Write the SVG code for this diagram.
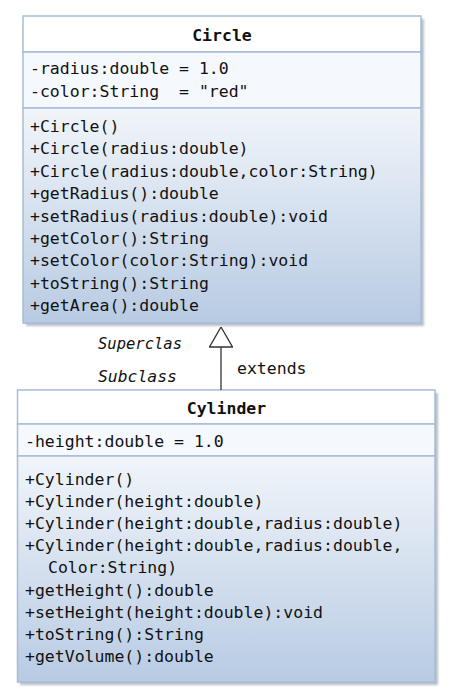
<svg xmlns="http://www.w3.org/2000/svg" width="451" height="696" viewBox="0 0 451 696">
<defs>
<linearGradient id="mg" x1="0" y1="0" x2="0" y2="1">
<stop offset="0" stop-color="#f1f5fa"/>
<stop offset="1" stop-color="#b8cbe3"/>
</linearGradient>
<filter id="sh" x="-5%" y="-5%" width="110%" height="110%">
<feGaussianBlur stdDeviation="1"/>
</filter>
<marker id="tri" viewBox="0 0 24 21" refX="12" refY="20.5" markerWidth="24" markerHeight="21" markerUnits="userSpaceOnUse" orient="0">
<polygon points="12,0.5 0.5,20.5 23.5,20.5" fill="#ffffff" stroke="#333333" stroke-width="1.3"/>
</marker>
</defs>
<style>
.box{stroke:#a6bcd8;stroke-width:1.5}
.t{font-family:"DejaVu Sans Mono","Liberation Mono",monospace;font-size:16.5px;fill:#111111}
.b{font-weight:bold;text-anchor:middle}
.i{font-style:italic}
.shadow{fill:#8a96a6;opacity:0.6}
</style>
<rect width="451" height="696" fill="#ffffff"/>
<g id="circle">
<rect class="shadow" x="26" y="19" width="398" height="307" filter="url(#sh)"/>
<rect class="box" x="23" y="16" width="398" height="36" fill="#ffffff"/>
<rect class="box" x="23" y="52" width="398" height="56" fill="#f5f8fc"/>
<rect class="box" x="23" y="108" width="398" height="215" fill="url(#mg)"/>
<text class="t b" x="222" y="41">Circle</text>
<text class="t" x="30" y="74">-radius:double = 1.0</text>
<text class="t" x="30" y="97" xml:space="preserve">-color:String  = "red"</text>
<g class="t">
<text x="30" y="132">+Circle()</text>
<text x="30" y="154.4">+Circle(radius:double)</text>
<text x="30" y="176.8">+Circle(radius:double,color:String)</text>
<text x="30" y="199.2">+getRadius():double</text>
<text x="30" y="221.6">+setRadius(radius:double):void</text>
<text x="30" y="244">+getColor():String</text>
<text x="30" y="266.4">+setColor(color:String):void</text>
<text x="30" y="288.8">+toString():String</text>
<text x="30" y="311.2">+getArea():double</text>
</g>
</g>
<g id="cylinder">
<rect class="shadow" x="20" y="393" width="418" height="292" filter="url(#sh)"/>
<rect class="box" x="17.5" y="390" width="417.5" height="34" fill="#ffffff"/>
<rect class="box" x="17.5" y="424" width="417.5" height="32" fill="#f5f8fc"/>
<rect class="box" x="17.5" y="456" width="417.5" height="226" fill="url(#mg)"/>
<text class="t b" x="226.5" y="414">Cylinder</text>
<text class="t" x="25" y="447">-height:double = 1.0</text>
<g class="t">
<text x="25" y="485">+Cylinder()</text>
<text x="25" y="507.1">+Cylinder(height:double)</text>
<text x="25" y="529.2">+Cylinder(height:double,radius:double)</text>
<text x="25" y="551.3">+Cylinder(height:double,radius:double,</text>
<text x="48" y="573.4">Color:String)</text>
<text x="25" y="595.5">+getHeight():double</text>
<text x="25" y="617.6">+setHeight(height:double):void</text>
<text x="25" y="639.7">+toString():String</text>
<text x="25" y="661.8">+getVolume():double</text>
</g>
</g>
<g id="connectors">
<line x1="221" y1="390" x2="221" y2="347" stroke="#333333" stroke-width="1.3" marker-end="url(#tri)"/>
<text class="t i" x="98" y="349" textLength="84" lengthAdjust="spacingAndGlyphs">Superclas</text>
<text class="t i" x="98" y="382" textLength="79" lengthAdjust="spacingAndGlyphs">Subclass</text>
<text class="t" x="237" y="374">extends</text>
</g>
</svg>
